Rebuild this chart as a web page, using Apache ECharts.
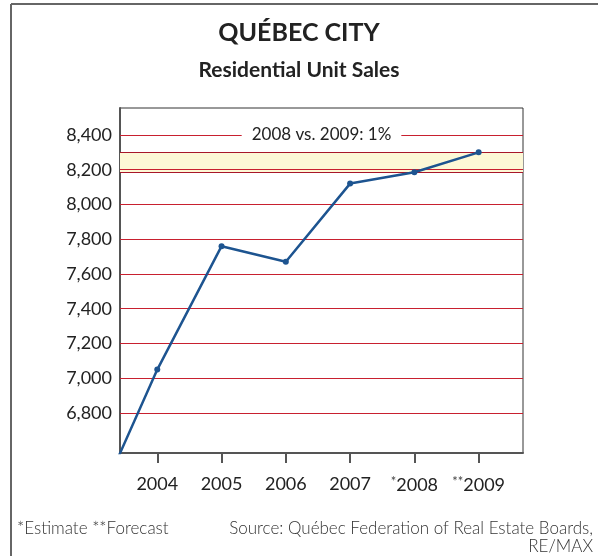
<!DOCTYPE html>
<html>
<head>
<meta charset="utf-8">
<script src="https://cdn.jsdelivr.net/npm/echarts@6/dist/echarts.min.js"></script>
<style>
  html, body { margin: 0; padding: 0; background: #fff; }
  #chart { width: 598px; height: 556px; }
</style>
</head>
<body>
<div id="chart"></div>
<script>
// years and unit sales (2003 runs off the left edge of the plot)
const years = [2003, 2004, 2005, 2006, 2007, 2008, 2009];
const sales = [6220, 7050, 7760, 7670, 8120, 8185, 8300];
const yearLabels = [2004, 2005, 2006, 2007, 2008, 2009];
const yearMarks = { 2008: '*', 2009: '**' };
const yTicks = [6800, 7000, 7200, 7400, 7600, 7800, 8000, 8200, 8400];
const band = [8185, 8300];
const compareText = '2008 vs. 2009: 1%';

const fontFamily = 'Lato, "Open Sans", sans-serif';
const gridRed = '#c8202f';

let chart = echarts.init(document.getElementById('chart'));

let gridLines = yTicks.map(v => {
    let item = { yAxis: v };
    if (v === 8400) {
        item.label = {
            show: true,
            position: 'middle',
            formatter: compareText,
            color: '#222',
            fontFamily: fontFamily,
            fontSize: 17,
            backgroundColor: '#fff',
            padding: [2, 10, 2, 10],
            distance: -10
        };
    }
    return item;
});

let option = {
    animation: false,
    textStyle: { fontFamily: fontFamily },
    title: [
        {
            text: 'QUÉBEC CITY',
            left: 'center',
            top: 15,
            textStyle: { fontSize: 25, fontWeight: 'bold', color: '#222', fontFamily: fontFamily }
        },
        {
            text: 'Residential Unit Sales',
            left: 'center',
            top: 55,
            textStyle: { fontSize: 21, fontWeight: 'bold', color: '#222', fontFamily: fontFamily }
        }
    ],
    graphic: [
        { type: 'line', shape: { x1: 11, y1: 4, x2: 598, y2: 4 }, style: { stroke: '#666', lineWidth: 2 } },
        { type: 'line', shape: { x1: 11, y1: 4, x2: 11, y2: 556 }, style: { stroke: '#666', lineWidth: 2 } },
        {
            type: 'text', x: 17, y: 520,
            style: { text: '*Estimate **Forecast', fontSize: 17, fill: '#333', fontFamily: fontFamily, fontWeight: 300 }
        },
        {
            type: 'text', x: 593, y: 520,
            style: {
                text: 'Source: Québec Federation of Real Estate Boards,\nRE/MAX',
                align: 'right', fontSize: 17, lineHeight: 18, fill: '#333', fontFamily: fontFamily, fontWeight: 300
            }
        }
    ],
    grid: {
        left: 120, top: 108, right: 75, bottom: 103,
        show: true, borderColor: '#333', borderWidth: 1
    },
    xAxis: {
        type: 'value',
        min: 2003.42,
        max: 2009.69,
        splitLine: { show: false },
        axisLine: { show: true, lineStyle: { color: '#555', width: 2 } },
        axisTick: {
            show: true, length: 10, inside: false,
            customValues: yearLabels,
            lineStyle: { color: '#555', width: 2 }
        },
        axisLabel: {
            customValues: yearLabels,
            margin: 22,
            fontSize: 18,
            color: '#222',
            fontFamily: fontFamily,
            formatter: v => yearMarks[v] ? '{sup|' + yearMarks[v] + '}{n|' + v + '}' : '{n|' + v + '}',
            rich: {
                n: { fontSize: 18, color: '#222', fontFamily: fontFamily },
                sup: { fontSize: 13, color: '#444', fontFamily: fontFamily, verticalAlign: 'top', padding: [0, 0, 8, 0] }
            }
        }
    },
    yAxis: {
        type: 'value',
        min: 6570,
        max: 8555,
        splitLine: { show: false },
        axisLine: { show: true, lineStyle: { color: '#555', width: 2 } },
        axisTick: { show: false },
        axisLabel: {
            customValues: yTicks,
            margin: 8,
            fontSize: 18,
            color: '#222',
            fontFamily: fontFamily,
            formatter: v => v.toLocaleString('en-US')
        }
    },
    series: [
        {
            type: 'line',
            data: years.map((y, i) => [y, sales[i]]),
            clip: true,
            symbol: 'circle',
            symbolSize: 6,
            showSymbol: true,
            lineStyle: { color: '#1d5490', width: 2.5 },
            itemStyle: { color: '#1d5490' },
            z: 5,
            markArea: {
                silent: true,
                itemStyle: { color: '#fdf8d6' },
                data: [[{ yAxis: band[0] }, { yAxis: band[1] }]]
            },
            markLine: {
                silent: true,
                symbol: 'none',
                animation: false,
                label: { show: false },
                lineStyle: { color: gridRed, type: 'solid', width: 1 },
                data: gridLines.concat(band.map(v => ({ yAxis: v, lineStyle: { color: '#a8172a', width: 1.2 } })))
            }
        }
    ]
};

option && chart.setOption(option);
</script>
</body>
</html>
